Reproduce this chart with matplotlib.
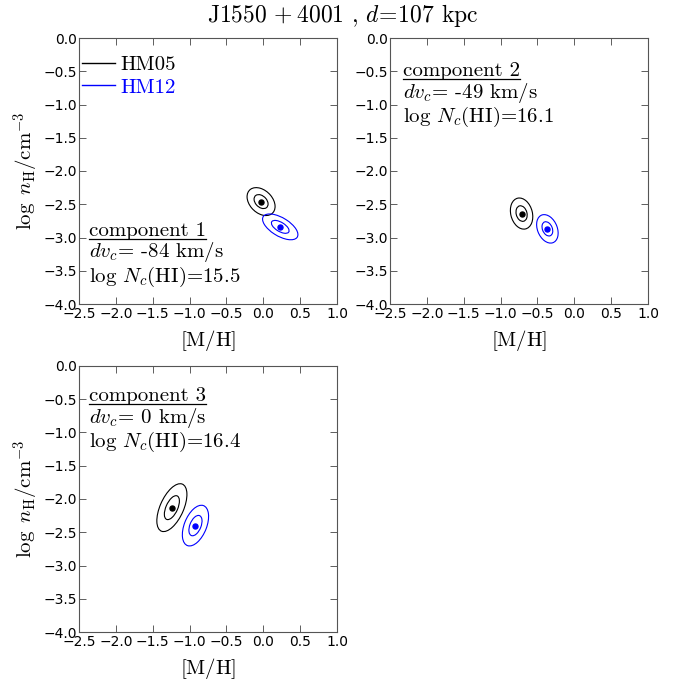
import numpy as np
import matplotlib
matplotlib.use("Agg")
import matplotlib.pyplot as plt
from matplotlib.patches import Ellipse
from matplotlib.lines import Line2D
from matplotlib.transforms import offset_copy

plt.rcParams["mathtext.fontset"] = "cm"
plt.rcParams["axes.unicode_minus"] = True

# Best-fit positions and uncertainties per absorption component
components = ["component 1", "component 2", "component 3"]
dv_labels = ["-84", "-49", "0"]
logN_labels = ["15.5", "16.1", "16.4"]

# HM05 solutions: [M/H], log nH, sigma_x, sigma_y, correlation
hm05_mh = [-0.03, -0.715, -1.24]
hm05_nh = [-2.46, -2.64, -2.13]
hm05_sx = [0.095, 0.076, 0.102]
hm05_sy = [0.105, 0.117, 0.180]
hm05_rho = [-0.35, -0.20, 0.55]

# HM12 solutions
hm12_mh = [0.23, -0.365, -0.92]
hm12_nh = [-2.84, -2.87, -2.40]
hm12_sx = [0.120, 0.073, 0.089]
hm12_sy = [0.097, 0.107, 0.153]
hm12_rho = [-0.60, -0.30, 0.45]

xticks = np.arange(-2.5, 1.01, 0.5)
yticks = np.arange(-4.0, 0.01, 0.5)

W, H = 686, 684
fig = plt.figure(figsize=(W / 100, H / 100), dpi=100)

def px_axes(x0, y0, x1, y1):
    return fig.add_axes([x0 / W, 1 - y1 / H, (x1 - x0) / W, (y1 - y0) / H])

axes = [px_axes(79, 38, 337, 304), px_axes(390, 38, 648, 304), px_axes(79, 366, 337, 632)]


def sigma_ellipse(ax, cx, cy, sx, sy, rho, nsig, color):
    cov = np.array([[sx * sx, rho * sx * sy], [rho * sx * sy, sy * sy]])
    vals, vecs = np.linalg.eigh(cov)
    order = vals.argsort()[::-1]
    vals, vecs = vals[order], vecs[:, order]
    angle = np.degrees(np.arctan2(vecs[1, 0], vecs[0, 0]))
    e = Ellipse((cx, cy), 2 * nsig * np.sqrt(vals[0]), 2 * nsig * np.sqrt(vals[1]),
                angle=angle, fill=False, edgecolor=color, linewidth=0.8)
    ax.add_patch(e)


cm_font = dict(family="cmr10", size=15)
text_pos = [(0.039, 0.256), (0.050, 0.857), (0.039, 0.868)]

for i, ax in enumerate(axes):
    for nsig in (1, 2):
        sigma_ellipse(ax, hm05_mh[i], hm05_nh[i], hm05_sx[i], hm05_sy[i], hm05_rho[i], nsig, "black")
        sigma_ellipse(ax, hm12_mh[i], hm12_nh[i], hm12_sx[i], hm12_sy[i], hm12_rho[i], nsig, "blue")
    ax.plot(hm05_mh[i], hm05_nh[i], "o", color="black", ms=3.6)
    ax.plot(hm12_mh[i], hm12_nh[i], "o", color="blue", ms=3.6)

    ax.set_xlim(-2.5, 1.0)
    ax.set_ylim(-4.0, 0.0)
    ax.set_xticks(xticks)
    ax.set_yticks(yticks)
    ax.tick_params(direction="in", top=True, right=True, length=5, width=0.6,
                   labelsize=10, color="#444444")
    ax.tick_params(axis="y", pad=1.5)
    ax.tick_params(axis="x", pad=2.5)
    for s in ax.spines.values():
        s.set_linewidth(0.8)
        s.set_color("#555555")
    ax.set_xlabel(r"$\mathrm{[M/H]}$", fontsize=15, labelpad=5)
    if i != 1:
        ax.set_ylabel(r"$\log\ n_{\rm H}/{\rm cm}^{-3}$", fontsize=15, labelpad=2)

    tx, ty = text_pos[i]
    t0 = ax.text(tx, ty, components[i], transform=ax.transAxes, va="baseline", **cm_font)
    ax.text(tx, ty, r"$dv_c$= " + dv_labels[i] + " km/s",
            transform=offset_copy(ax.transAxes, fig=fig, y=-15.5, units="points"),
            va="baseline", **cm_font)
    ax.text(tx, ty, r"log $N_c$(HI)=" + logN_labels[i],
            transform=offset_copy(ax.transAxes, fig=fig, y=-33.0, units="points"),
            va="baseline", **cm_font)
    fig.canvas.draw()
    bb = t0.get_window_extent().transformed(ax.transAxes.inverted())
    uy = ty - 3.0 / 266
    ax.add_line(Line2D([bb.x0, bb.x1], [uy, uy], transform=ax.transAxes,
                       color="black", linewidth=0.9))

leg_handles = [Line2D([], [], color="black", lw=1.0), Line2D([], [], color="blue", lw=1.0)]
leg = axes[0].legend(leg_handles, ["HM05", "HM12"], loc="upper left", frameon=False,
                     prop=dict(family="cmr10", size=15), handlelength=1.6,
                     handletextpad=0.25, labelspacing=0.2, borderpad=0.0,
                     borderaxespad=0.0, bbox_to_anchor=(0.012, 0.935))
leg.get_texts()[1].set_color("blue")

fig.text(0.5, 0.978, r"J1550$\,+$4001 , $d\!=\!$107 kpc", ha="center", va="center",
         family="cmr10", size=17)

fig.savefig("out.png", dpi=100)
